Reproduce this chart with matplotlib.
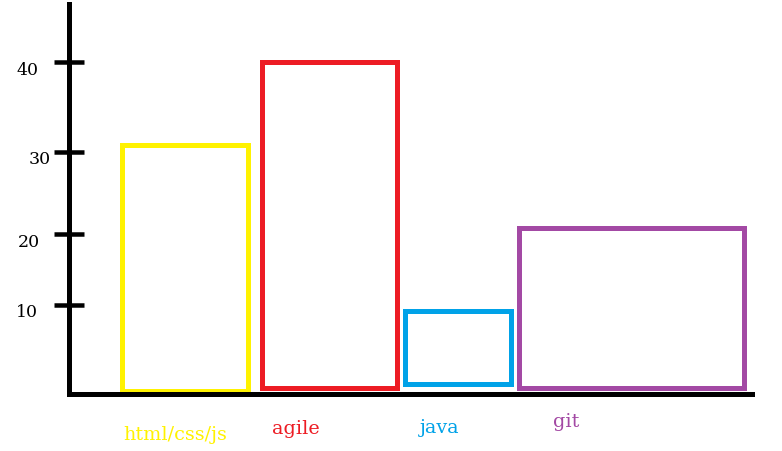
import matplotlib
matplotlib.use("Agg")
import matplotlib.pyplot as plt
from matplotlib.transforms import ScaledTranslation

# ---- data ----
categories = ["html/css/js", "agile", "java", "git"]
values = [30, 40, 10, 20]
bar_bottoms = [0.4, 0.8, 1.3, 0.7]
colors = ["#FFF200", "#ED1C24", "#00A2E8", "#A349A4"]
tick_labels = ["10", "20", "30", "40"]

# ---- layout (pixels) ----
W, H = 782, 452
PX_PER_UNIT = 8.3
axis_x, axis_y, axis_top, axis_right = 69.3, 395.3, 5.0, 752.0
bar_left = [52.2, 192.2, 335.9, 449.2]
bar_width = [126, 135, 106, 225]
label_x = [105.7, 226.7, 370.7, 496.7]
label_y_px = [435, 429, 428, 422]
tick_pos = [10.8, 19.3, 29.2, 40.0]
tick_label_dx = [-5, -3, 8, -5]   # hand-drawn offsets, pixels

fig = plt.figure(figsize=(W / 100, H / 100), dpi=100)
ax = fig.add_axes([axis_x / W, (H - axis_y) / H,
                   (axis_right - axis_x) / W, (axis_y - axis_top) / H])
ax.set_xlim(0, axis_right - axis_x)
ax.set_ylim(0, (axis_y - axis_top) / PX_PER_UNIT)

lw = 5 * 72 / 100
bars = ax.bar(bar_left, [v - b for v, b in zip(values, bar_bottoms)],
              bottom=bar_bottoms, width=bar_width, align="edge",
              fill=False, edgecolor=colors, linewidth=lw)
for b in bars:
    b.set_joinstyle("miter")

for spine in ["top", "right"]:
    ax.spines[spine].set_visible(False)
for spine in ["left", "bottom"]:
    ax.spines[spine].set_linewidth(lw)
    ax.spines[spine].set_color("black")
    ax.spines[spine].set_capstyle("projecting")

ax.set_xticks([])
ax.set_yticks(tick_pos)
ax.set_yticklabels(tick_labels, family="DejaVu Serif", fontsize=12.5)
ax.tick_params(axis="y", direction="inout", length=30 * 72 / 100,
               width=4.5 * 72 / 100, pad=8, color="black")
for lab, dx in zip(ax.get_yticklabels(), tick_label_dx):
    off = ScaledTranslation(dx / 100, -5 / 100, fig.dpi_scale_trans)
    lab.set_transform(lab.get_transform() + off)

for cat, x, ypx, c in zip(categories, label_x, label_y_px, colors):
    ax.text(x, (axis_y - ypx) / PX_PER_UNIT, cat, color=c,
            ha="center", va="center", family="DejaVu Serif",
            fontsize=13.8, clip_on=False)

fig.savefig("out.png", dpi=100)
